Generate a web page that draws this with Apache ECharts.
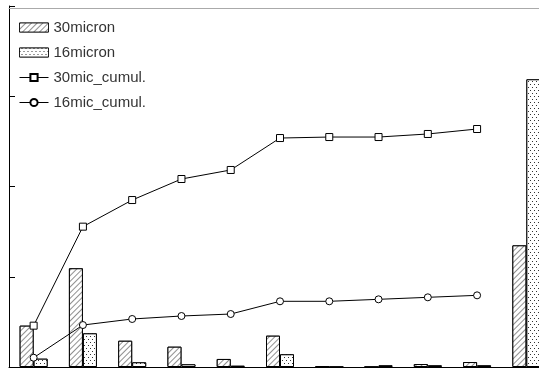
<!DOCTYPE html>
<html>
<head>
<meta charset="utf-8">
<script src="https://cdn.jsdelivr.net/npm/echarts@6/dist/echarts.min.js"></script>
<style>html,body{margin:0;padding:0;background:#fff;overflow:hidden;width:539px;height:368px}#c{width:551px;height:368px}</style>
</head>
<body>
<div id="c"></div>
<script>
const categories = ['1','2','3','4','5','6','7','8','9','10','11'];
const micron30 = [4.58, 10.94, 2.91, 2.25, 0.89, 3.47, 0.08, 0, 0.33, 0.55, 13.48];
const micron16 = [0.92, 3.73, 0.52, 0.30, 0.14, 1.41, 0, 0.19, 0.19, 0.19, 31.88];
const cumul30 = [4.58, 15.55, 18.50, 20.83, 21.83, 25.37, 25.48, 25.48, 25.82, 26.37];
const cumul16 = [1.03, 4.65, 5.32, 5.65, 5.87, 7.28, 7.28, 7.50, 7.72, 7.94];
const yTicks = [0, 10, 20, 30, 40];

const chart = echarts.init(document.getElementById('c'), null, {renderer: 'canvas'});
const hatch = {
  symbol: 'rect', symbolSize: 1, color: '#909090', backgroundColor: '#fff',
  dashArrayX: [1, 0], dashArrayY: [1, 3], rotation: -Math.PI / 4
};
const dots = {
  symbol: 'rect', symbolSize: 1, color: '#333', backgroundColor: '#fff',
  dashArrayX: [[1, 3], [0, 2, 1, 1]], dashArrayY: [1, 2], rotation: 0
};
chart.setOption({
  animation: false,
  backgroundColor: '#fff',
  textStyle: {fontFamily: 'Liberation Sans'},
  grid: {left: 9, top: 6, right: 0, bottom: 1, containLabel: false},
  legend: {
    orient: 'vertical', left: 19, top: 20, padding: 0, itemWidth: 29, itemHeight: 9, itemGap: 10,
    textStyle: {fontSize: 15, color: '#333', fontFamily: 'Liberation Sans'},
    lineStyle: {width: 1},
    data: [
      {name: '30micron', icon: 'rect', itemStyle: {borderWidth: 0.8}},
      {name: '16micron', icon: 'rect', itemStyle: {borderWidth: 0.8}},
      '30mic_cumul.', '16mic_cumul.'
    ]
  },
  xAxis: [{
    type: 'category', data: categories, boundaryGap: true,
    axisLine: {lineStyle: {color: '#000', width: 1}},
    axisTick: {inside: true, length: 6, lineStyle: {color: '#000'}},
    axisLabel: {show: false}, splitLine: {show: false}
  }, {
    type: 'category', data: categories, position: 'top', offset: -2,
    axisLine: {lineStyle: {color: '#aaa', width: 1}},
    axisTick: {show: false}, axisLabel: {show: false}
  }],
  yAxis: {
    type: 'value', min: yTicks[0], max: yTicks[yTicks.length - 1], interval: 10,
    axisLine: {show: true, lineStyle: {color: '#000', width: 1}},
    axisTick: {show: true, inside: true, length: 6, lineStyle: {color: '#000'}},
    axisLabel: {show: false}, splitLine: {show: false}
  },
  series: [
    {name: '30micron', type: 'bar', data: micron30, barWidth: 14, barGap: '0%',
     itemStyle: {color: '#fff', borderColor: '#000', borderWidth: 1, decal: hatch}},
    {name: '16micron', type: 'bar', data: micron16, barWidth: 14, barGap: '0%',
     itemStyle: {color: '#fff', borderColor: '#000', borderWidth: 1, decal: dots}},
    {name: '30mic_cumul.', type: 'line', data: cumul30, symbol: 'rect', symbolSize: 7,
     lineStyle: {color: '#000', width: 1},
     itemStyle: {color: '#fff', borderColor: '#000', borderWidth: 1}},
    {name: '16mic_cumul.', type: 'line', data: cumul16, symbol: 'circle', symbolSize: 7,
     lineStyle: {color: '#000', width: 1},
     itemStyle: {color: '#fff', borderColor: '#000', borderWidth: 1}}
  ]
});
</script>
</body>
</html>
